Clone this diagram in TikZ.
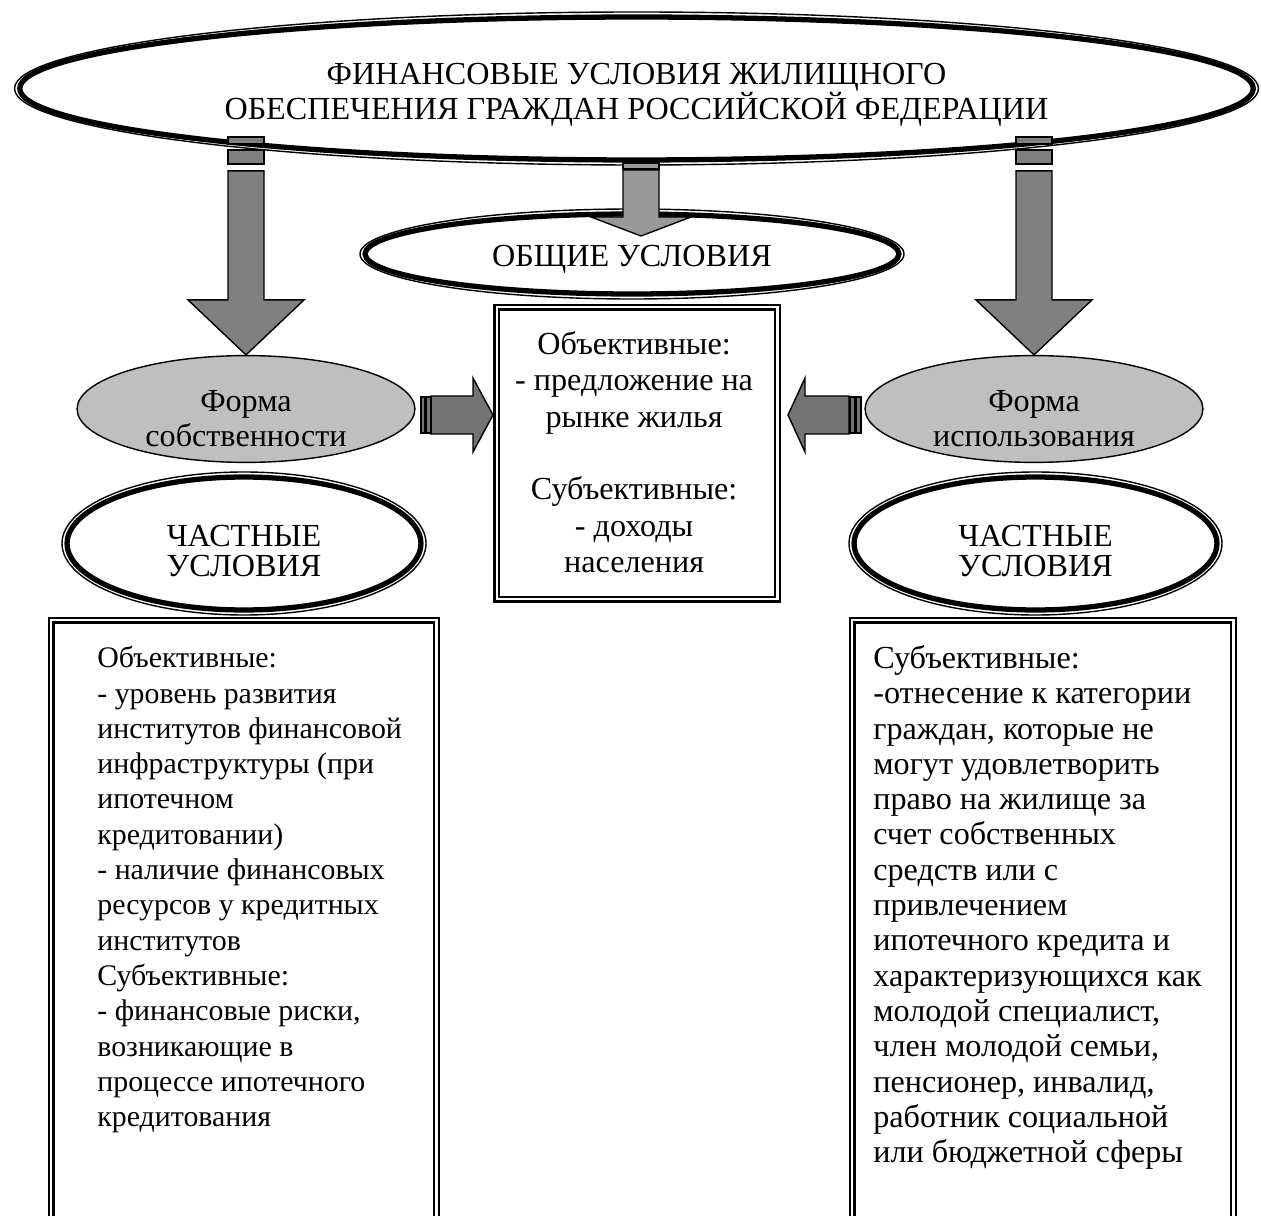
\documentclass[tikz,border=0pt]{standalone}
\usepackage{fontspec}
\setmainfont{Liberation Serif}
\usetikzlibrary{shapes.geometric}

\tikzset{
  oval/.style 2 args={ellipse, draw, line width=3pt, inner sep=0pt, align=center,
    minimum width=#1*0.04cm, minimum height=#2*0.04cm},
  ovalring/.style={line width=0.8pt},
  formoval/.style 2 args={ellipse, draw, line width=0.8pt, fill=black!25, inner sep=0pt,
    align=center, minimum width=#1*0.04cm, minimum height=#2*0.04cm},
  dblbox/.style={draw, double, line width=1.3pt, double distance=1.3pt, inner sep=0pt},
  blockarrow/.style={draw, line width=0.8pt, line join=miter, fill=black!50},
}

\begin{document}
\begin{tikzpicture}[x=0.02cm, y=-0.02cm, font=\fontsize{18.3}{20.1}\selectfont]
\useasboundingbox (0,0) rectangle (1261,1216);
\clip (0,0) rectangle (1261,1216);

% ovals
\node[oval={617}{71.5}] (top) at (636.5,88.5)
  {\rule{0pt}{19.2pt}ФИНАНСОВЫЕ УСЛОВИЯ ЖИЛИЩНОГО\\ОБЕСПЕЧЕНИЯ ГРАЖДАН РОССИЙСКОЙ ФЕДЕРАЦИИ};
\node[oval={267}{40}] (obsh) at (632,254) {\rule{0pt}{18pt}ОБЩИЕ УСЛОВИЯ};
\node[oval={177}{66.5}] (chL) at (244,543.5) {\rule{0pt}{20.6pt}ЧАСТНЫЕ\\[-2.85pt]УСЛОВИЯ};
\node[oval={181.5}{66.5}] (chR) at (1035.5,543.5) {\rule{0pt}{20.6pt}ЧАСТНЫЕ\\[-2.85pt]УСЛОВИЯ};
\foreach \n/\rx/\ry in {top/617/71.5, obsh/267/40, chL/177/66.5, chR/181.5/66.5}
  \draw[ovalring] (\n.center) ellipse [x radius=\rx+5, y radius=\ry+5];

\node[formoval={169}{53}] (formL) at (246,409) {\rule{0pt}{22.7pt}Форма\\собственности};
\node[formoval={169}{53}] (formR) at (1034,409) {\rule{0pt}{22.7pt}Форма\\использования};

% boxes
\node[dblbox, anchor=north west, minimum width=5.62cm, minimum height=5.84cm] (cbox) at (495.5,306) {};
\node[anchor=north, align=center, inner sep=0pt, font=\fontsize{18.3}{20.7}\selectfont] (ctext)
  at ([shift={(-3,25)}]cbox.north)
  {Объективные:\\- предложение на\\рынке жилья\\[20.7pt]Субъективные:\\- доходы\\населения};

\node[dblbox, anchor=north west, minimum width=7.71cm, minimum height=12.6cm] (boxL) at (50,619) {};
\node[anchor=north west, align=left, inner sep=0pt, font=\fontsize{17}{20.1}\selectfont] (txtL)
  at ([shift={(47,27)}]boxL.north west)
  {Объективные:\\- уровень развития\\институтов финансовой\\инфраструктуры (при\\ипотечном\\кредитовании)\\- наличие финансовых\\ресурсов у кредитных\\институтов\\Субъективные:\\- финансовые риски,\\возникающие в\\процессе ипотечного\\кредитования};

\node[dblbox, anchor=north west, minimum width=7.63cm, minimum height=12.6cm] (boxR) at (851,619) {};
\node[anchor=north west, align=left, inner sep=0pt] (txtR) at ([shift={(22,26)}]boxR.north west)
  {Субъективные:\\-отнесение к категории\\граждан, которые не\\могут удовлетворить\\право на жилище за\\счет собственных\\средств или с\\привлечением\\ипотечного кредита и\\характеризующихся как\\молодой специалист,\\член молодой семьи,\\пенсионер, инвалид,\\работник социальной\\или бюджетной сферы};

% arrows
\foreach \n in {formL, formR}{
  \draw[blockarrow] (\n.north) -- ++(-58,-55) -- ++(40,0) -- ++(0,-129) -- ++(36,0)
    -- ++(0,129) -- ++(40,0) -- cycle;
  \draw[blockarrow] (\n.north) ++(-18,-218) rectangle ++(36,7);
  \draw[blockarrow] (\n.north) ++(-18,-205) rectangle ++(36,14);
}

\coordinate (ctip) at (641,236);
\draw[blockarrow, fill=black!40] (ctip) -- ++(-50,-19) -- ++(32,0) -- ++(0,-47) -- ++(36,0)
  -- ++(0,47) -- ++(32,0) -- cycle;
\draw[blockarrow, fill=black!40] (ctip) ++(-18,-73) rectangle ++(36,6);

\coordinate (ltip) at (493,415);
\coordinate (rtip) at (788,415);
\draw[blockarrow, fill=black!55] (ltip) -- ++(-20,-37) -- ++(0,18) -- ++(-42,0) -- ++(0,38)
  -- ++(42,0) -- ++(0,18) -- cycle;
\draw[blockarrow, fill=black!55] (ltip) ++(-72,-18) rectangle ++(4,36);
\draw[blockarrow, fill=black!55] (ltip) ++(-67,-18) rectangle ++(5,36);
\draw[blockarrow, fill=black!55] (rtip) -- ++(17,-37) -- ++(0,18) -- ++(44,0) -- ++(0,38)
  -- ++(-44,0) -- ++(0,18) -- cycle;
\draw[blockarrow, fill=black!55] (rtip) ++(62,-18) rectangle ++(5,36);
\draw[blockarrow, fill=black!55] (rtip) ++(68,-18) rectangle ++(5,36);
\end{tikzpicture}
\end{document}
